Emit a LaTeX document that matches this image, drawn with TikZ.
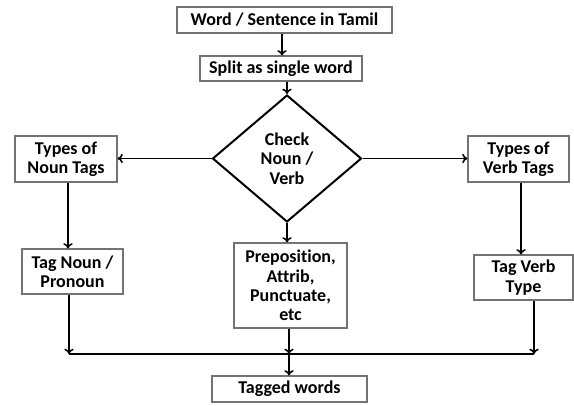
\documentclass[tikz,border=0pt]{standalone}
\usepackage{fontspec}
\setmainfont[Ligatures=NoCommon]{Carlito}
\usepackage{tikz}
\usetikzlibrary{shapes.geometric,arrows.meta}

\begin{document}
\begin{tikzpicture}[x=0.75pt,y=0.75pt,yscale=-1,xscale=1,
  box/.style={draw=black!55, line width=0.8pt, inner sep=0pt, align=center,
    font=\fontsize{13.5}{14.5}\selectfont\bfseries},
  chk/.style={draw, diamond, line width=1.5pt, inner sep=0pt, align=center,
    font=\fontsize{13.5}{14.5}\selectfont\bfseries},
  arr/.style={-{To[length=4pt,width=7pt]}, line width=1.2pt},
  lin/.style={line width=1.2pt}]

\useasboundingbox (0,0) rectangle (574,405);

\draw (284.5,20) node [box, minimum width=161.25pt, minimum height=19.5pt] (word) {Word / Sentence in Tamil};

\draw (281,68.5) node [box, minimum width=121.5pt, minimum height=18.75pt] (split) {Split as single word};

\draw (287,158.5) node [chk, minimum width=111.75pt, minimum height=95.25pt] (check) {Check\\Noun /\\Verb};

\draw (66,159) node [box, minimum width=76.5pt, minimum height=34.5pt] (ntypes) {Types of\\Noun Tags};

\draw (518.5,159) node [box, minimum width=75.75pt, minimum height=34.5pt] (vtypes) {Types of\\Verb Tags};

\draw (72.5,271.5) node [box, minimum width=75.75pt, minimum height=33.75pt] (tnoun) {Tag Noun /\\Pronoun};

\draw (290.5,285.5) node [box, minimum width=84.75pt, minimum height=63.75pt] (prep) {Preposition,\\Attrib,\\Punctuate,\\etc};

\draw (523.5,277.5) node [box, minimum width=74.25pt, minimum height=33.75pt] (tverb) {Tag Verb\\Type};

\draw (289.5,389) node [box, minimum width=116.25pt, minimum height=19.5pt] (tagged) {Tagged words};

% joins above the last box
\coordinate (jl) at (69,354);
\coordinate (jm) at (289,354);
\coordinate (jr) at (534,354);

\draw [arr] (word.south -| 282,0) -- (split.north -| 282,0);

\draw [arr] (split.south -| check.north) -- (check.north);

\draw [arr] (check.west) -- (check.west -| ntypes.east);

\draw [arr] (check.east) -- (check.east -| vtypes.west);

\draw [arr] (ntypes.south -| 68,0) -- (tnoun.north -| 68,0);

\draw [arr] (vtypes.south -| 521,0) -- (tverb.north -| 521,0);

\draw [arr] (check.south) -- (check.south |- prep.north);

\draw [arr] (tnoun.south -| jl) -- (jl);

\draw [arr] (tverb.south -| jr) -- (jr);

\draw [lin] (jl) -- (jr);

\draw [arr] (prep.south -| jm) -- (jm);

\draw [arr] (jm) -- (tagged.north -| jm);

\end{tikzpicture}
\end{document}
